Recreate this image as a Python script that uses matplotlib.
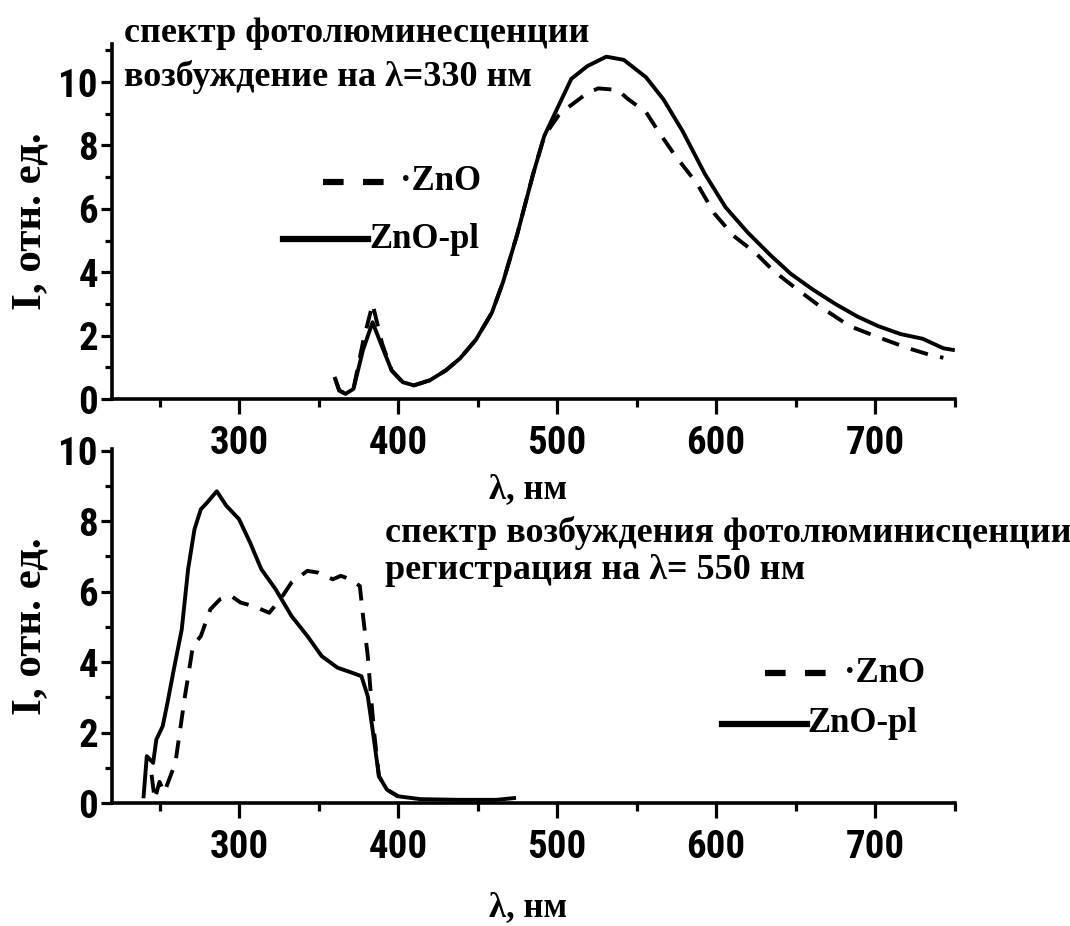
import matplotlib
matplotlib.use("Agg")
import matplotlib.pyplot as plt
from matplotlib import font_manager as fm
from matplotlib.lines import Line2D
from matplotlib.ticker import MultipleLocator

# ---------------- data ----------------
# Top panel: photoluminescence spectrum, excitation 330 nm
pl_wl_solid = [360.5, 363, 367, 372, 378, 384, 390, 396, 403, 410, 420, 430, 439, 449,
               459, 466, 475, 485, 492, 500, 509, 519, 531, 542, 556, 567, 579, 593,
               606, 620, 634, 647, 661, 675, 689, 702, 716, 730, 743, 749]
pl_int_solid = [0.64, 0.27, 0.16, 0.32, 1.55, 2.42, 1.65, 0.9, 0.53, 0.43, 0.59, 0.9, 1.28, 1.87,
                2.72, 3.68, 5.2, 7.1, 8.3, 9.15, 10.1, 10.5, 10.8, 10.7, 10.15, 9.45, 8.45, 7.1,
                6.05, 5.25, 4.55, 3.95, 3.45, 3.0, 2.6, 2.3, 2.05, 1.9, 1.6, 1.55]

pl_wl_dash = [360.5, 363, 367, 372, 378, 384, 390, 396, 403, 410, 420, 430, 439, 449,
              459, 466, 475, 485, 492, 501, 507, 519, 526, 538, 545, 556, 563, 574, 588,
              599, 611, 625, 636, 650, 666, 684, 702, 721, 734, 743]
pl_int_dash = [0.64, 0.27, 0.16, 0.32, 1.8, 3.0, 1.75, 0.9, 0.53, 0.43, 0.59, 0.9, 1.28, 1.87,
               2.72, 3.68, 5.2, 7.1, 8.3, 8.95, 9.2, 9.65, 9.8, 9.75, 9.45, 9.05, 8.5, 7.7, 6.8,
               5.85, 5.15, 4.6, 4.05, 3.5, 2.9, 2.3, 1.95, 1.6, 1.4, 1.3]

# Bottom panel: PL excitation spectrum, registration at 550 nm
ex_wl_solid = [240, 242, 246, 248, 252, 255, 259, 264, 268, 272, 276, 280, 286, 292, 300,
               307, 314, 323, 333, 343, 352, 362, 371, 377, 381, 384, 388, 393, 400, 414,
               438, 462, 473]
ex_int_solid = [0.19, 1.33, 1.14, 1.8, 2.18, 2.84, 3.79, 4.93, 6.64, 7.77, 8.34, 8.53, 8.85,
                8.44, 8.06, 7.39, 6.64, 6.07, 5.31, 4.74, 4.17, 3.84, 3.7, 3.6, 3.03, 2.09,
                0.76, 0.38, 0.19, 0.11, 0.09, 0.09, 0.14]

ex_wl_dash = [245, 247, 250, 253, 260, 266, 271, 276, 282, 288, 295, 301, 309, 319, 326,
              333, 343, 350, 359, 364, 370, 376, 378, 381, 383, 385, 388, 393, 400]
ex_int_dash = [0.8, 0.1, 0.6, 0.3, 1.14, 3.03, 4.45, 4.74, 5.5, 5.78, 5.88, 5.69, 5.59, 5.4,
               5.78, 6.26, 6.59, 6.54, 6.35, 6.45, 6.35, 6.16, 5.31, 4.17, 3.03, 2.0, 0.76,
               0.38, 0.19]

x_ticks = [300, 400, 500, 600, 700]
y_ticks = [0, 2, 4, 6, 8, 10]
labels = ["·ZnO", "ZnO-pl"]

# ---------------- fonts ----------------
names = {f.name for f in fm.fontManager.ttflist}
tick_family, tick_size = "Liberation Sans", 26
for cand, size in (("Liberation Sans Narrow", 28), ("Roboto Condensed", 28),
                   ("Open Sans Condensed", 27), ("Arial Narrow", 28)):
    if cand in names:
        tick_family, tick_size = cand, size
        break
serif = "Liberation Serif"

W, H = 1070, 926
fig = plt.figure(figsize=(W / 100, H / 100), dpi=100)


def fx(x):
    return x / W


def fy(y):
    return 1 - y / H


left, right = 111.8, 954.5
ax1 = fig.add_axes([fx(left), fy(399), fx(right) - fx(left), fy(44) - fy(399)])
ax2 = fig.add_axes([fx(left), fy(803), fx(right) - fx(left), fy(449) - fy(803)])
ax1.set_facecolor("none")
ax2.set_facecolor("none")

LW = 2.8
DASH = (0, (4.6, 3.2))

ax1.plot(pl_wl_dash, pl_int_dash, color="black", lw=LW, linestyle=DASH)
ax1.plot(pl_wl_solid, pl_int_solid, color="black", lw=LW)
ax2.plot(ex_wl_dash, ex_int_dash, color="black", lw=LW, linestyle=DASH)
ax2.plot(ex_wl_solid, ex_int_solid, color="black", lw=LW)

for ax, ytop in ((ax1, 11.2), (ax2, 10.05)):
    ax.set_xlim(220, 750)
    ax.set_ylim(0, ytop)
    ax.spines["top"].set_visible(False)
    ax.spines["right"].set_visible(False)
    for s in ("left", "bottom"):
        ax.spines[s].set_linewidth(2.6)
        ax.spines[s].set_capstyle("projecting")
    ax.set_xticks(x_ticks)
    ax.set_yticks(y_ticks)
    ax.xaxis.set_minor_locator(MultipleLocator(50))
    ax.yaxis.set_minor_locator(MultipleLocator(1))
    ax.tick_params(axis="x", which="major", direction="out", length=11, width=2.3, pad=8)
    ax.tick_params(axis="x", which="minor", direction="out", length=6, width=2.3)
    ax.tick_params(axis="y", which="major", direction="out", length=8, width=2.3, pad=2)
    ax.tick_params(axis="y", which="minor", direction="out", length=5, width=2.3)
    for lab in ax.get_xticklabels() + ax.get_yticklabels():
        lab.set_fontfamily(tick_family)
        lab.set_fontweight("bold")
        lab.set_fontsize(tick_size)

# y labels
for yc in (221, 626):
    fig.text(fx(31), fy(yc), "I, отн. ед.", fontfamily=serif, fontweight="bold",
             fontsize=31, rotation=90, ha="center", va="center")

# x labels
fig.text(fx(528), fy(490), "λ, нм", fontfamily=serif, fontweight="bold", fontsize=25,
         ha="center", va="center")
fig.text(fx(528), fy(908), "λ, нм", fontfamily=serif, fontweight="bold", fontsize=25,
         ha="center", va="center")

# annotations
TS = 26
fig.text(fx(124), fy(42), "спектр фотолюминесценции", fontfamily=serif, fontweight="bold",
         fontsize=TS, ha="left", va="baseline")
fig.text(fx(124), fy(86), "возбуждение на λ=330 нм", fontfamily=serif, fontweight="bold",
         fontsize=TS, ha="left", va="baseline")
fig.text(fx(385), fy(542), "спектр возбуждения фотолюминисценции", fontfamily=serif,
         fontweight="bold", fontsize=TS, ha="left", va="baseline")
fig.text(fx(385), fy(579), "регистрация на λ= 550 нм", fontfamily=serif, fontweight="bold",
         fontsize=TS, ha="left", va="baseline")


# manual legends
def legend(dash_x0, dash_x1, dash_y, dash_tx, sol_x0, sol_x1, sol_y, sol_tx):
    fig.add_artist(Line2D([fx(dash_x0), fx(dash_x1)], [fy(dash_y), fy(dash_y)],
                          transform=fig.transFigure, color="black", lw=4.5,
                          linestyle=(0, (3.3, 3.1)), solid_capstyle="butt"))
    fig.add_artist(Line2D([fx(sol_x0), fx(sol_x1)], [fy(sol_y), fy(sol_y)],
                          transform=fig.transFigure, color="black", lw=4.5))
    fig.text(fx(dash_tx), fy(dash_y), labels[0], fontfamily=serif, fontweight="bold",
             fontsize=25, ha="left", va="center")
    fig.text(fx(sol_tx), fy(sol_y), labels[1], fontfamily=serif, fontweight="bold",
             fontsize=25, ha="left", va="center")


legend(323, 385, 182, 400, 283, 368, 239, 369)
legend(765, 827, 673, 844, 722, 807, 724, 807)

fig.savefig("out.png", dpi=100)
